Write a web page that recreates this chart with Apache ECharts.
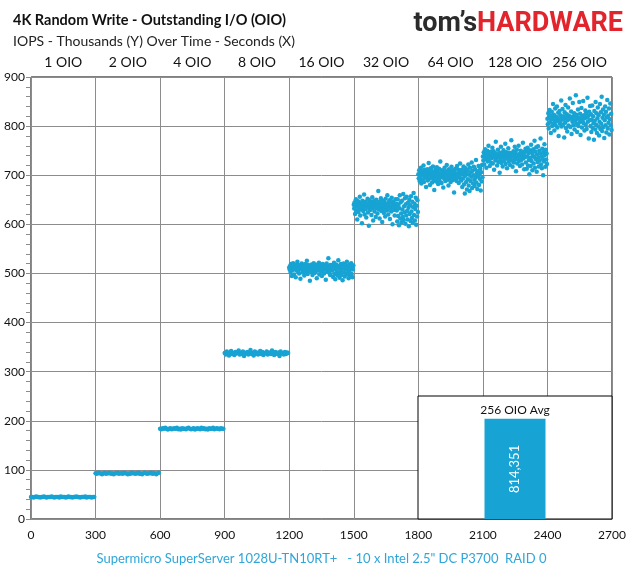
<!DOCTYPE html>
<html>
<head>
<meta charset="utf-8">
<script src="https://cdn.jsdelivr.net/npm/echarts@6/dist/echarts.min.js"></script>
<style>
html,body{margin:0;padding:0;background:#fff;}
#chart{width:633px;height:571px;}
</style>
</head>
<body>
<div id="chart"></div>
<script>
// ---- data ----
const segmentLabels = ['1 OIO','2 OIO','4 OIO','8 OIO','16 OIO','32 OIO','64 OIO','128 OIO','256 OIO'];
const segmentStarts = [0,300,600,900,1200,1500,1800,2100,2400];
const segmentLength = 300;
const xTicks = [0,300,600,900,1200,1500,1800,2100,2400,2700];

const oio1 = [45,45,44,45,46,45,45,44,45,45,46,45,44,45,45,45,46,45,44,45,45,45,44,46,45,45,45,44,45,46,45,45,44,45,45,46,45,45,44,45,45,45,46,44,45,45,45,44,45,45];
const oio2 = [93,92,94,93,93,91,93,94,92,93,93,94,92,93,91,93,93,94,92,93,93,92,94,93,93,91,93,92,94,93,93,92,93,94,92,93,91,93,94,93,92,93,93,94,92,93,93,91,93,94];
const oio4 = [184,183,185,184,186,184,182,184,185,183,184,185,184,186,183,184,182,185,184,184,183,185,186,184,183,184,185,182,184,185,184,183,186,184,185,183,184,182,185,184,184,186,183,184,185,184,183,185,184,184];
const oio8 = [338,335,341,337,333,339,342,336,338,334,340,337,339,343,335,338,336,341,332,338,
337,340,335,339,344,336,338,333,341,337,339,335,338,342,336,340,334,338,337,341,
335,339,338,336,343,337,334,340,338,336,339,332,341,337,338,335,340,336,339,338];
const oio16 = [512,508,515,503,519,510,495,514,507,521,511,498,516,509,513,492,518,506,512,524,
505,511,517,500,509,514,489,513,508,520,515,502,510,507,516,496,512,519,504,511,
509,526,513,499,517,506,514,510,485,508,515,503,518,512,497,511,507,521,514,501,
510,516,505,513,490,509,518,506,512,522,498,514,508,517,504,511,495,513,519,507,
512,500,516,509,514,487,511,520,505,513,508,531,502,515,510,497,517,506,512,509,
506,517,493,511,522,499,514,488,509,518,503,515,496,512,527,501,510,491,516,505,
519,497,508,513,486,511,520,502,514,494,509,517,500,513,524,498,507,515,490,512,
503,518,495,510,521,499,514,492,508,516];
const oio32 = [640,632,645,621,638,651,628,643,610,636,647,625,641,633,656,618,639,644,630,602,
648,635,627,642,661,620,637,646,631,614,643,638,652,624,640,597,634,649,629,645,
636,619,642,655,632,608,647,637,626,644,639,615,650,633,641,622,638,668,630,646,
612,640,635,653,627,643,605,637,648,631,623,645,639,616,652,634,642,628,659,636,
620,644,632,649,611,638,641,626,654,633,600,646,637,629,643,618,640,651,635,642,
628,606,651,617,640,598,633,659,612,645,622,604,648,630,615,662,609,637,624,653,
601,641,618,656,627,610,644,634,596,650,621,639,607,657,626,613,646,603,635,664,
619,642,608,631,654,599,638,616,649,625];
const oio64 = [702,694,710,688,705,697,715,683,700,708,691,703,720,686,699,711,695,704,676,707,
698,712,689,701,725,693,706,680,702,714,696,709,685,700,718,692,705,670,703,697,
711,687,701,716,694,707,682,699,713,690,704,728,696,702,684,710,698,706,675,701,
693,715,700,688,708,697,721,703,691,705,679,712,699,694,709,686,702,717,695,704,
690,710,700,665,707,698,713,692,703,688,719,701,696,711,684,706,699,724,693,708,
689,711,676,703,694,718,681,707,663,699,714,686,705,671,710,692,722,679,701,668,
715,688,706,697,726,674,709,683,700,717,691,678,712,695,731,685,704,672,708,698,
719,680,702,693,713,669,706,687,721,696];
const oio128 = [738,730,747,722,741,753,733,744,715,740,750,728,736,760,731,745,719,739,748,726,
742,735,756,724,740,749,711,737,745,730,768,734,743,720,739,752,727,741,736,705,
746,732,758,725,740,744,718,737,751,729,743,735,764,723,739,747,714,741,733,755,
728,738,746,721,742,736,771,730,744,717,740,749,726,737,758,732,745,708,739,752,
724,741,735,760,729,743,719,738,750,731,746,722,740,766,734,742,712,748,737,754,
726,749,713,738,756,720,744,731,702,751,735,719,762,729,746,710,740,753,724,737,
770,715,748,733,757,707,742,727,759,736,718,750,730,745,775,722,739,714,754,734,
700,747,728,763,741,717,752,732,744,723];
const oio256 = [815,804,826,795,818,833,808,821,786,814,829,800,817,845,806,823,791,812,836,802,
819,810,840,797,816,827,780,813,831,805,822,811,852,799,818,835,803,820,814,777,
828,807,843,796,817,824,789,812,838,801,821,815,856,798,816,830,784,819,809,847,
802,814,826,793,820,811,863,805,823,788,815,834,800,817,849,808,825,782,813,837,
797,819,810,851,806,822,791,816,832,803,827,794,818,858,809,821,775,829,812,841,
800,824,788,813,842,796,820,806,772,831,811,793,849,803,826,786,816,838,799,822,
781,809,845,794,828,805,860,790,817,834,798,823,776,812,840,802,829,787,818,853,
795,821,807,836,783,814,846,801,825,792];

const avgLabel = '256 OIO Avg';
const avgIOPS = 814351;

// ---- build ----
const segments = [oio1,oio2,oio4,oio8,oio16,oio32,oio64,oio128,oio256];
const points = [];
segments.forEach((vals, s) => {
  const step = segmentLength / vals.length;
  vals.forEach((v, i) => points.push([segmentStarts[s] + i * step, v]));
});

const blue = '#17a3d3';
const FONT = 'Lato, "Open Sans", sans-serif';

const chart = echarts.init(document.getElementById('chart'));
chart.setOption({
  animation: false,
  backgroundColor: '#fff',
  textStyle: { fontFamily: FONT },
  title: [
    {
      text: '4K Random Write - Outstanding I/O (OIO)',
      subtext: 'IOPS - Thousands (Y) Over Time - Seconds (X)',
      left: 8, top: 8, itemGap: 6,
      textStyle: { fontFamily: FONT, fontSize: 14.5, fontWeight: 'bold', color: '#111' },
      subtextStyle: { fontFamily: FONT, fontSize: 14, color: '#222' }
    },
    {
      text: '{a|tom\u2019s}{b|HARDWARE}',
      right: 5, top: 6,
      textStyle: {
        rich: {
          a: { fontFamily: 'Roboto, sans-serif', fontSize: 27, fontWeight: 'bold', color: '#2b2b2b' },
          b: { fontFamily: 'Roboto, sans-serif', fontSize: 27, fontWeight: 'bold', color: '#e2242d' }
        }
      }
    }
  ],
  grid: [
    { left: 31, right: 21, top: 77, bottom: 52, show: true, borderColor: '#000', borderWidth: 1, backgroundColor: 'transparent', outerBoundsMode: 'none', containLabel: false },
    { left: 418, width: 194, top: 396, height: 123, show: true, borderColor: '#000', borderWidth: 1, backgroundColor: '#fff', z: 5, outerBoundsMode: 'none', containLabel: false }
  ],
  xAxis: [
    {
      type: 'value', gridIndex: 0, min: xTicks[0], max: xTicks[xTicks.length - 1], interval: 300,
      name: 'Supermicro SuperServer 1028U-TN10RT+   - 10 x Intel 2.5" DC P3700  RAID 0',
      nameLocation: 'middle', nameGap: 33,
      nameTextStyle: { color: '#2ea6d9', fontSize: 13, fontFamily: FONT },
      axisLine: { show: true, lineStyle: { color: '#8c8c8c' } },
      axisTick: { show: false },
      axisLabel: { color: '#111', fontSize: 12, margin: 10, formatter: v => String(v) },
      splitLine: { show: true, lineStyle: { color: '#8c8c8c', width: 1 } }
    },
    {
      type: 'category', gridIndex: 0, position: 'top', data: segmentLabels, boundaryGap: true,
      axisLine: { show: false }, axisTick: { show: false }, splitLine: { show: false },
      axisLabel: { color: '#111', fontSize: 14, margin: 8, interval: 0 }
    },
    {
      type: 'category', gridIndex: 1, data: [avgLabel], show: false
    }
  ],
  yAxis: [
    {
      type: 'value', gridIndex: 0, min: 0, max: 900, interval: 100,
      axisLine: { show: true, lineStyle: { color: '#8c8c8c' } },
      axisTick: { show: true, length: 5, lineStyle: { color: '#8c8c8c' } },
      minorTick: { show: true, splitNumber: 5, length: 5, lineStyle: { color: '#8c8c8c' } },
      axisLabel: { color: '#111', fontSize: 12, margin: 6 },
      splitLine: { show: true, lineStyle: { color: '#8c8c8c', width: 1 } }
    },
    {
      type: 'value', gridIndex: 1, min: 0, max: 1000000, show: false, splitLine: { show: false }
    }
  ],
  series: [
    {
      type: 'scatter', xAxisIndex: 0, yAxisIndex: 0,
      data: points, symbolSize: 4.5,
      itemStyle: { color: blue, opacity: 1 }
    },
    {
      type: 'bar', xAxisIndex: 2, yAxisIndex: 1, z: 6,
      data: [avgIOPS], barWidth: 61,
      itemStyle: { color: blue },
      label: {
        show: true, position: 'inside', rotate: 90, color: '#fff', fontSize: 13,
        formatter: p => p.value.toLocaleString('en-US')
      }
    },
    {
      type: 'bar', xAxisIndex: 2, yAxisIndex: 1, z: 6,
      data: [avgIOPS], barWidth: 61, barGap: '-100%',
      itemStyle: { color: 'rgba(0,0,0,0)' },
      label: { show: true, position: 'top', distance: 3, color: '#111', fontSize: 12, formatter: p => p.name }
    }
  ]
});
</script>
</body>
</html>
